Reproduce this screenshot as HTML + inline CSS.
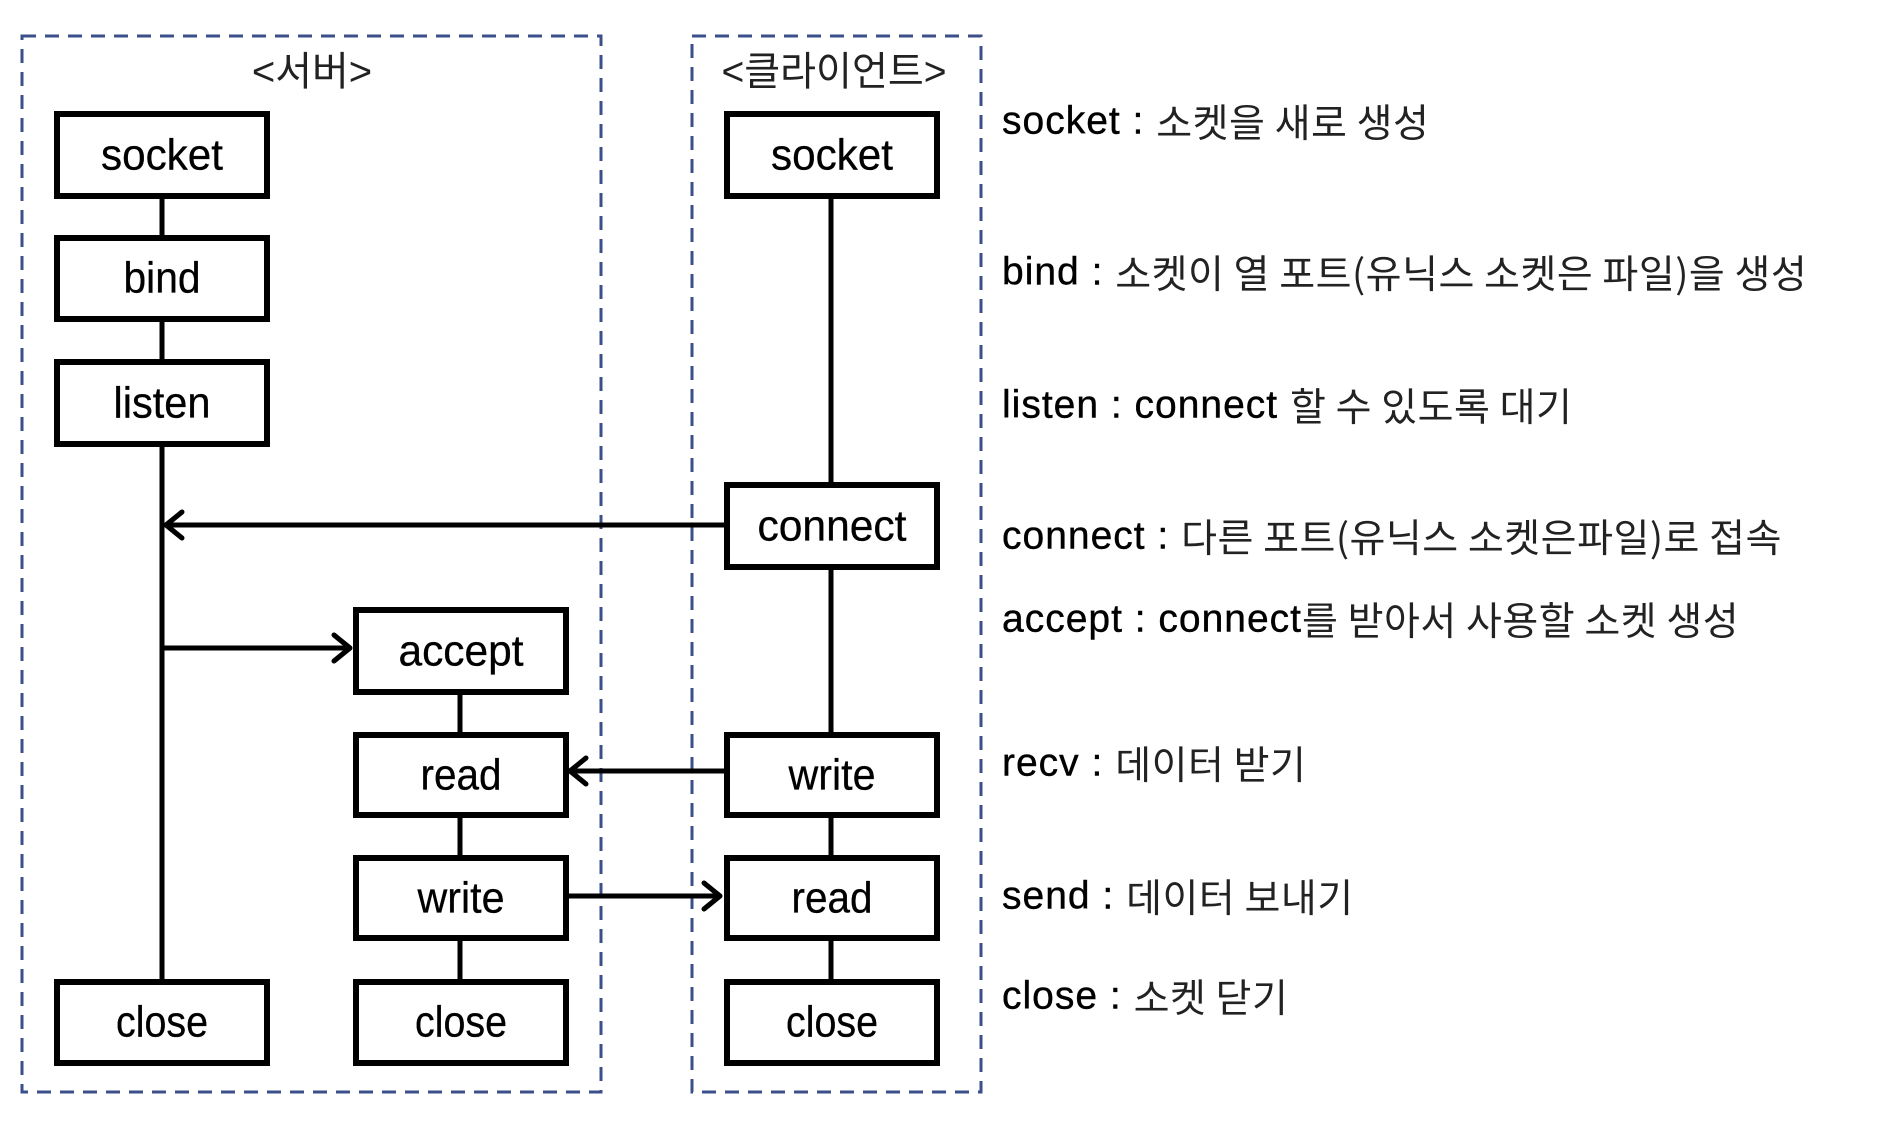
<!DOCTYPE html>
<html><head><meta charset="utf-8"><style>
html,body{margin:0;padding:0;background:#fff;}
svg{display:block;}
.b{fill:#fff;stroke:#000;stroke-width:6;}
.t{font-family:"Liberation Sans",sans-serif;font-size:44px;text-anchor:middle;dominant-baseline:central;fill:#000;stroke:#000;stroke-width:0.3;}
.l{font-family:"Liberation Sans","Noto Sans CJK KR",sans-serif;font-size:39px;letter-spacing:1px;fill:#000;stroke:#000;stroke-width:0.4;dominant-baseline:central;}
.k{font-family:"Noto Sans CJK KR","NanumGothic",sans-serif;font-size:39px;letter-spacing:0.5px;fill:#222;stroke:none;}
.ln{stroke:#000;stroke-width:5;fill:none;}
.ah{stroke:#000;stroke-width:5;fill:none;stroke-linecap:round;stroke-linejoin:round;}
.d{fill:none;stroke:#3b4f8a;stroke-width:3;stroke-dasharray:14,9;}
.h{font-family:"Liberation Sans","Noto Sans CJK KR",sans-serif;font-size:40px;text-anchor:middle;dominant-baseline:central;fill:#222;}
</style></head><body>
<svg width="1896" height="1140" viewBox="0 0 1896 1140">
<rect class="d" x="22" y="36" width="579" height="1056"/>
<rect class="d" x="692" y="36" width="289" height="1056"/>
<text class="h" x="312" y="72">&lt;서버&gt;</text>
<text class="h" x="834" y="72" textLength="225" lengthAdjust="spacingAndGlyphs">&lt;클라이언트&gt;</text>

<line class="ln" x1="162" y1="196" x2="162" y2="979"/>
<line class="ln" x1="460" y1="692" x2="460" y2="979"/>
<line class="ln" x1="831" y1="196" x2="831" y2="979"/>
<line class="ln" x1="724" y1="525" x2="165" y2="525"/>
<polyline class="ah" points="182,512 166,525 182,538"/>
<line class="ln" x1="162" y1="648" x2="350" y2="648"/>
<polyline class="ah" points="334,635 350,648 334,661"/>
<line class="ln" x1="724" y1="771" x2="570" y2="771"/>
<polyline class="ah" points="586,758 570,771 586,784"/>
<line class="ln" x1="566" y1="896" x2="720" y2="896"/>
<polyline class="ah" points="704,883 720,896 704,909"/>

<rect class="b" x="57" y="114" width="210" height="82"/><text class="t" x="162" y="155" textLength="122" lengthAdjust="spacingAndGlyphs">socket</text>
<rect class="b" x="57" y="238" width="210" height="81"/><text class="t" x="162" y="278" textLength="77" lengthAdjust="spacingAndGlyphs">bind</text>
<rect class="b" x="57" y="362" width="210" height="82"/><text class="t" x="162" y="403" textLength="97" lengthAdjust="spacingAndGlyphs">listen</text>
<rect class="b" x="57" y="982" width="210" height="81"/><text class="t" x="162" y="1022" textLength="92" lengthAdjust="spacingAndGlyphs">close</text>
<rect class="b" x="356" y="610" width="210" height="82"/><text class="t" x="461" y="651" textLength="125" lengthAdjust="spacingAndGlyphs">accept</text>
<rect class="b" x="356" y="735" width="210" height="80"/><text class="t" x="461" y="775" textLength="81" lengthAdjust="spacingAndGlyphs">read</text>
<rect class="b" x="356" y="858" width="210" height="80"/><text class="t" x="461" y="898" textLength="87" lengthAdjust="spacingAndGlyphs">write</text>
<rect class="b" x="356" y="982" width="210" height="81"/><text class="t" x="461" y="1022" textLength="92" lengthAdjust="spacingAndGlyphs">close</text>
<rect class="b" x="727" y="114" width="210" height="82"/><text class="t" x="832" y="155" textLength="122" lengthAdjust="spacingAndGlyphs">socket</text>
<rect class="b" x="727" y="485" width="210" height="82"/><text class="t" x="832" y="526" textLength="149" lengthAdjust="spacingAndGlyphs">connect</text>
<rect class="b" x="727" y="735" width="210" height="80"/><text class="t" x="832" y="775" textLength="87" lengthAdjust="spacingAndGlyphs">write</text>
<rect class="b" x="727" y="858" width="210" height="80"/><text class="t" x="832" y="898" textLength="81" lengthAdjust="spacingAndGlyphs">read</text>
<rect class="b" x="727" y="982" width="210" height="81"/><text class="t" x="832" y="1022" textLength="92" lengthAdjust="spacingAndGlyphs">close</text>

<text class="l" x="1002" y="121">socket : <tspan class="k">소켓을 새로 생성</tspan></text>
<text class="l" x="1002" y="272">bind : <tspan class="k">소켓이 열 포트(유닉스 소켓은 파일)을 생성</tspan></text>
<text class="l" x="1002" y="405">listen : connect <tspan class="k">할 수 있도록 대기</tspan></text>
<text class="l" x="1002" y="536">connect : <tspan class="k">다른 포트(유닉스 소켓은파일)로 접속</tspan></text>
<text class="l" x="1002" y="619">accept : connect<tspan class="k">를 받아서 사용할 소켓 생성</tspan></text>
<text class="l" x="1002" y="763">recv : <tspan class="k">데이터 받기</tspan></text>
<text class="l" x="1002" y="896">send : <tspan class="k">데이터 보내기</tspan></text>
<text class="l" x="1002" y="996">close : <tspan class="k">소켓 닫기</tspan></text>
</svg>
</body></html>
